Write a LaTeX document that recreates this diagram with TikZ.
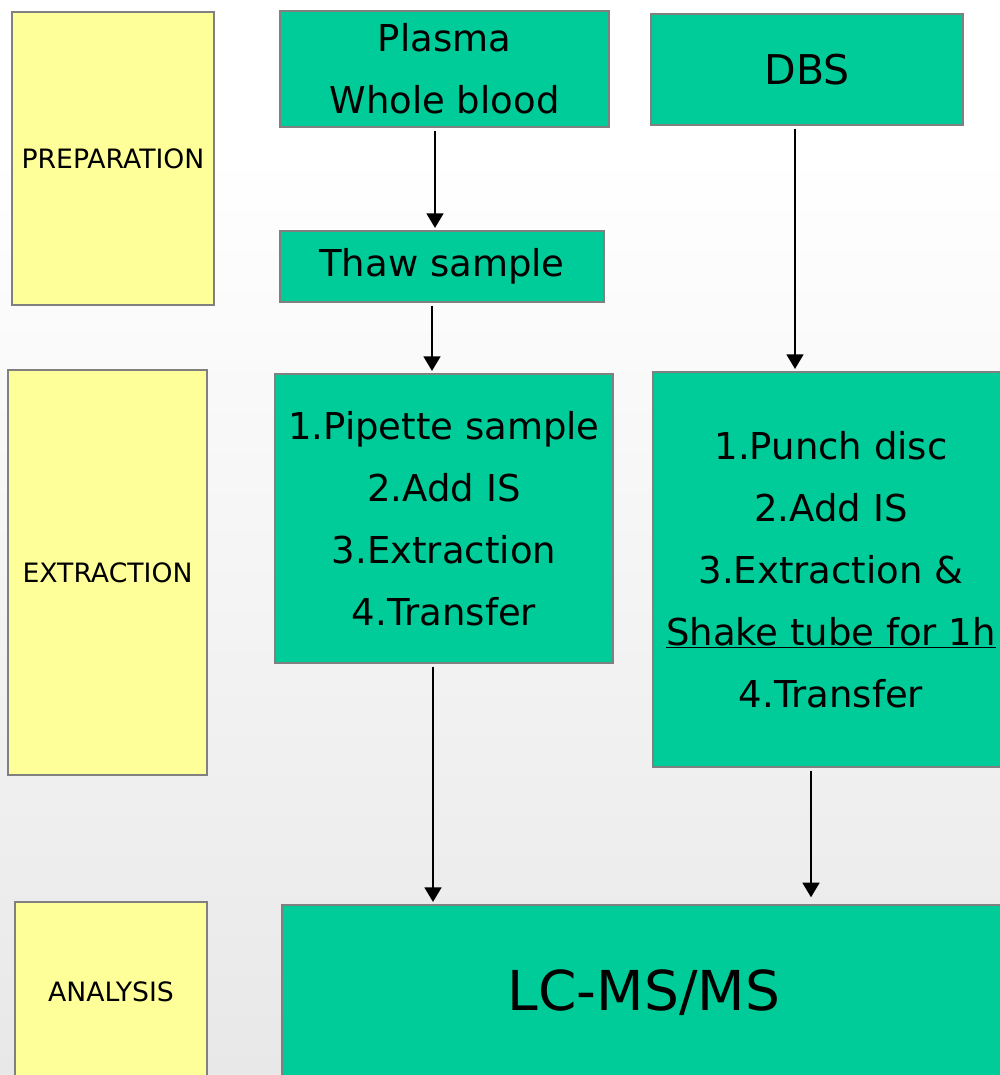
\documentclass[tikz,border=0pt]{standalone}
\usepackage{fontspec}
\setmainfont{DejaVu Sans}
\usetikzlibrary{arrows.meta}
\definecolor{boxgreen}{HTML}{00CC99}
\definecolor{boxyellow}{HTML}{FFFF99}
\definecolor{edgegray}{HTML}{808080}
\tikzset{
  basebox/.style={draw=edgegray, line width=1.5pt, inner sep=0pt, align=center, text=black},
  gbox/.style={basebox, fill=boxgreen, font=\fontsize{27.75pt}{46.5pt}\selectfont},
  ybox/.style={basebox, fill=boxyellow, font=\fontsize{20pt}{24pt}\selectfont},
  arr/.style={line width=2pt, -{Triangle[width=12.5pt,length=11pt]}, shorten <=2pt, shorten >=1.5pt}
}
\begin{document}
\begin{tikzpicture}[x=0.75pt,y=-0.75pt]
\useasboundingbox (0,0) rectangle (1000,1075);
\clip (0,0) rectangle (1000,1075);
\fill[top color=white, bottom color=black!9] (0,150) rectangle (1000,1075);
% stage labels
\node[ybox, minimum width=151.5pt, minimum height=219.75pt] (prep) at (113,158.5) {PREPARATION};
\node[ybox, minimum width=149.25pt, minimum height=303.75pt] (extr) at (107.5,572.5) {EXTRACTION};
\node[ybox, minimum width=144pt, minimum height=135pt] (anal) at (111,992) {ANALYSIS};
% process boxes
\node[gbox, minimum width=246.75pt, minimum height=87pt] (plasma) at (444.5,69) {Plasma\\Whole blood};
\node[gbox, minimum width=234pt, minimum height=83.25pt, font=\fontsize{30.75pt}{36pt}\selectfont] (dbs) at (807,69.5) {DBS};
\node[gbox, minimum width=243pt, minimum height=53.25pt] (thaw) at (442,266.5) {Thaw sample};
\node[gbox, minimum width=253.5pt, minimum height=216.75pt] (pip) at (444,518.5) {1.Pipette sample\\2.Add IS\\3.Extraction\\4.Transfer};
\node[gbox, minimum width=267pt, minimum height=296.25pt] (punch) at (831,569.5) {1.Punch disc\\2.Add IS\\3.Extraction \&\\\underline{Shake tube for 1h}\\4.Transfer};
\node[gbox, minimum width=543pt, minimum height=131.25pt, font=\fontsize{41.25pt}{48pt}\selectfont] (lc) at (644,992.5) {LC-MS/MS};
% arrow columns
\coordinate (c1) at (435,0);
\coordinate (c2) at (432,0);
\coordinate (c3) at (795,0);
\coordinate (c4) at (433,0);
\coordinate (c5) at (811,0);
\draw[arr] (plasma.south -| c1) -- (thaw.north -| c1);
\draw[arr] (thaw.south -| c2) -- (pip.north -| c2);
\draw[arr] (dbs.south -| c3) -- (punch.north -| c3);
\draw[arr] (pip.south -| c4) -- (lc.north -| c4);
\draw[arr, shorten >=5pt] (punch.south -| c5) -- (lc.north -| c5);
\end{tikzpicture}
\end{document}
